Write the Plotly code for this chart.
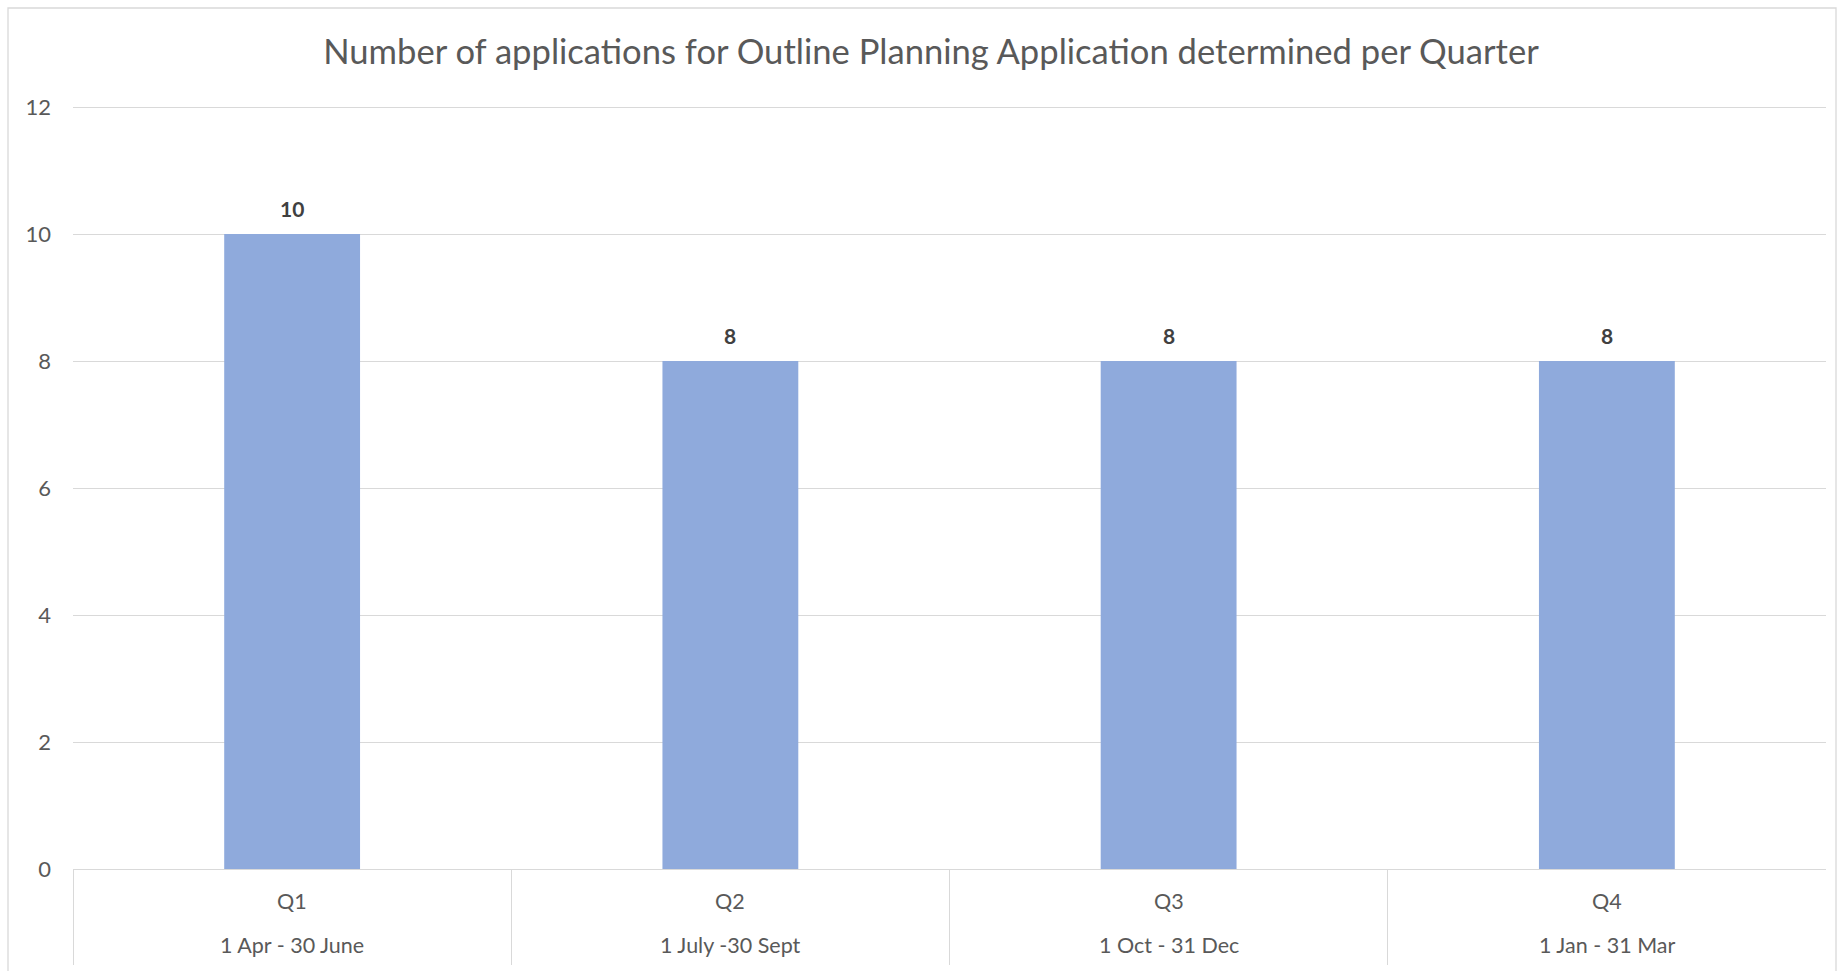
import plotly.graph_objects as go

quarters = ["Q1", "Q2", "Q3", "Q4"]
periods = ["1 Apr - 30 June", "1 July -30 Sept", "1 Oct - 31 Dec", "1 Jan - 31 Mar"]
applications = [10, 8, 8, 8]
y_ticks = [0, 2, 4, 6, 8, 10, 12]

W, H = 1839, 971
FONT = "Lato"
GRID = "#d9d9d9"
TEXT = "#595959"

Y_TOP_PX = 107   # pixel of value 12
Y_ZERO_PX = 869  # pixel of value 0
Y_MAX = 12.1
px_per_unit = (Y_ZERO_PX - Y_TOP_PX) / 12.0
dom_top_px = Y_ZERO_PX - Y_MAX * px_per_unit

fig = go.Figure()
fig.add_trace(go.Bar(
    x=quarters, y=applications,
    marker=dict(color="#8faadc", line=dict(width=0)),
    width=0.31,
    hoverinfo="skip",
))

# data labels
for q, v in zip(quarters, applications):
    fig.add_annotation(x=q, y=v, xref="x", yref="y", text=f"<b>{v}</b>",
                       showarrow=False, yanchor="bottom", yshift=11,
                       font=dict(family=FONT, size=21, color="#404040"))

# category labels (two levels)
for q, p in zip(quarters, periods):
    fig.add_annotation(x=q, y=1 - 901 / H, xref="x", yref="paper", text=q,
                       showarrow=False, yanchor="middle",
                       font=dict(family=FONT, size=21.5, color=TEXT))
    fig.add_annotation(x=q, y=1 - 945 / H, xref="x", yref="paper", text=p,
                       showarrow=False, yanchor="middle",
                       font=dict(family=FONT, size=21.5, color=TEXT))

# chart outline
fig.add_shape(type="rect", xref="paper", yref="paper",
              x0=8 / W, x1=1836 / W, y0=-0.05, y1=1 - 8 / H,
              line=dict(color=GRID, width=1.3), layer="below")

fig.update_layout(
    width=W, height=H,
    margin=dict(l=0, r=0, t=0, b=0),
    paper_bgcolor="white", plot_bgcolor="white",
    showlegend=False,
    title=dict(text="Number of applications for Outline Planning Application determined per Quarter",
               x=931 / W, xanchor="center", y=1 - 52 / H, yanchor="middle",
               font=dict(family=FONT, size=34.6, color=TEXT)),
    xaxis=dict(domain=[73 / W, 1826 / W], type="category",
               range=[-0.5, 3.5], showticklabels=False,
               tickson="boundaries", ticks="outside", ticklen=95,
               tickcolor=GRID, tickwidth=1.3,
               showgrid=False, showline=True, linecolor=GRID, linewidth=1.3,
               zeroline=False, fixedrange=True, automargin=False),
    yaxis=dict(domain=[1 - Y_ZERO_PX / H, 1 - dom_top_px / H], range=[0, Y_MAX],
               tickvals=y_ticks, showgrid=True, gridcolor=GRID, gridwidth=1.3,
               zeroline=False, showline=False, ticks="",
               ticklabelstandoff=21, automargin=False,
               tickfont=dict(family=FONT, size=22, color=TEXT), fixedrange=True),
)

fig.write_html("out.html",
               config={"displayModeBar": False},
               post_script="document.body.style.margin='0';document.body.style.overflow='hidden';")
